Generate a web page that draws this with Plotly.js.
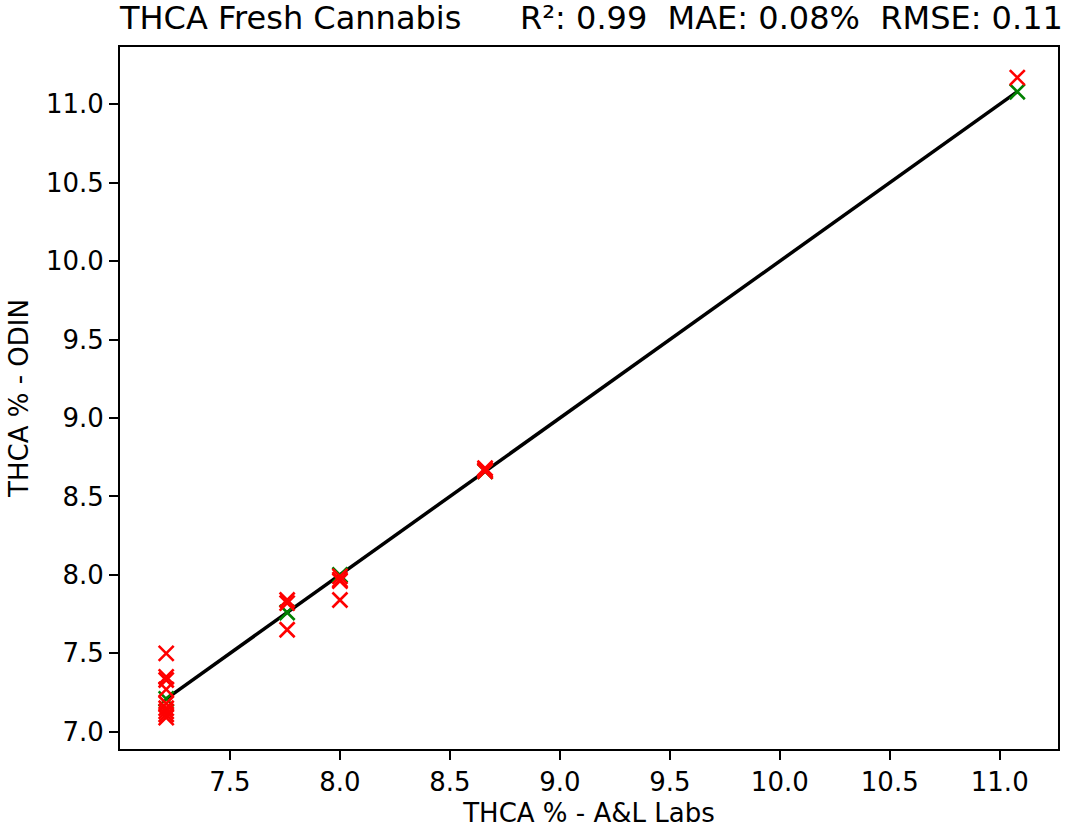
<!DOCTYPE html>
<html>
<head>
<meta charset="utf-8">
<script src="https://cdn.plot.ly/plotly-3.0.1.min.js"></script>
<style>html,body{margin:0;padding:0;background:#fff;}#chart{width:1066px;height:828px;}</style>
</head>
<body>
<div id="chart"></div>
<script>
// Reference values (A&L Labs) and ODIN measurements
const refX  = [7.21, 7.21, 7.21, 7.21, 7.21, 7.21, 7.21, 7.21, 7.21,
               7.76, 7.76, 7.76,
               8.00, 8.00, 8.00, 8.00,
               8.66, 8.66, 8.66,
               11.08];
const odinY = [7.50, 7.35, 7.33, 7.27, 7.18, 7.15, 7.13, 7.11, 7.09,
               7.84, 7.82, 7.65,
               7.99, 7.97, 7.96, 7.84,
               8.68, 8.67, 8.66,
               11.17];
// Reference points on the identity line
const idealX = [7.21, 7.76, 8.00, 8.66, 11.08];
const idealY = [7.21, 7.76, 8.00, 8.66, 11.08];

const titleLeft = "THCA Fresh Cannabis";
const titleRight = "R\u00b2: 0.99\u00a0\u00a0MAE: 0.08%\u00a0\u00a0RMSE: 0.11";
const xLabel = "THCA % - A&L Labs";
const yLabel = "THCA % - ODIN";

const font = "DejaVu Sans, sans-serif";
const lineX = [Math.min(...idealX), Math.max(...idealX)];

const traces = [
  {x: lineX, y: lineX, mode: 'lines', line: {color: '#000', width: 3.5}, hoverinfo: 'skip'},
  {x: idealX, y: idealY, mode: 'markers',
   marker: {symbol: 'x-thin-open', size: 15, color: 'green', line: {color: 'green', width: 2.6}}},
  {x: refX, y: odinY, mode: 'markers',
   marker: {symbol: 'x-thin-open', size: 15, color: '#ff0000', line: {color: '#ff0000', width: 2.6}}}
];

const axisCommon = {
  showgrid: false, zeroline: false, showline: true, mirror: true,
  linecolor: '#000', linewidth: 2, ticks: 'outside', ticklen: 9, tickwidth: 2,
  tickcolor: '#000', tickfont: {family: font, size: 26, color: '#000'}
};

const layout = {
  width: 1066, height: 828,
  margin: {l: 120, r: 8, t: 47, b: 79},
  paper_bgcolor: '#fff', plot_bgcolor: '#fff',
  showlegend: false,
  font: {family: font, color: '#000'},
  xaxis: Object.assign({}, axisCommon, {
    range: [7.0, 11.265], tickvals: [7.5, 8.0, 8.5, 9.0, 9.5, 10.0, 10.5, 11.0],
    ticktext: ['7.5','8.0','8.5','9.0','9.5','10.0','10.5','11.0'],
    title: {text: xLabel, font: {family: font, size: 26, color: '#000'}, standoff: 11}
  }),
  yaxis: Object.assign({}, axisCommon, {
    range: [6.89, 11.365], tickvals: [7.0, 7.5, 8.0, 8.5, 9.0, 9.5, 10.0, 10.5, 11.0],
    ticktext: ['7.0','7.5','8.0','8.5','9.0','9.5','10.0','10.5','11.0'],
    title: {text: yLabel, font: {family: font, size: 26, color: '#000'}, standoff: 10}
  }),
  annotations: [
    {text: titleLeft, xref: 'paper', yref: 'paper', x: 0, y: 1, xanchor: 'left', yanchor: 'bottom',
     yshift: 8, xshift: -3, showarrow: false, font: {family: font, size: 32, color: '#000'}},
    {text: titleRight, xref: 'paper', yref: 'paper', x: 1, y: 1, xanchor: 'right', yanchor: 'bottom',
     yshift: 8, xshift: 7, showarrow: false, font: {family: font, size: 32, color: '#000'}}
  ]
};

Plotly.newPlot('chart', traces, layout, {displayModeBar: false, staticPlot: true});
</script>
</body>
</html>
